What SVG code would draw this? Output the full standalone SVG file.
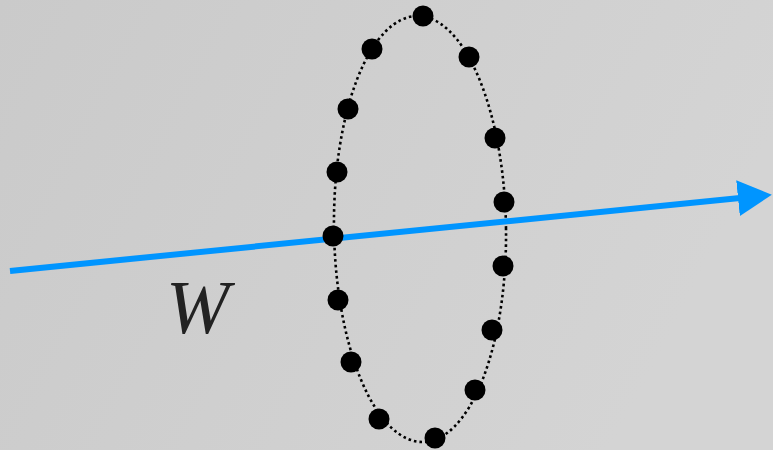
<svg xmlns="http://www.w3.org/2000/svg" width="773" height="450" viewBox="0 0 773 450">
<defs>
<linearGradient id="bg" x1="0" y1="0" x2="1" y2="0.3">
<stop offset="0" stop-color="#cacaca"/>
<stop offset="1" stop-color="#d4d4d4"/>
</linearGradient>
<marker id="ah" markerUnits="userSpaceOnUse" markerWidth="36" markerHeight="36" refX="2" refY="18" orient="auto">
<polygon points="0,0 34,18 0,36" fill="#0095ff"/>
</marker>
<style>
.dot{fill:#000}
.ring{fill:none;stroke:#000;stroke-width:2.6;stroke-dasharray:2.6 3}
</style>
</defs>
<rect width="773" height="450" fill="url(#bg)"/>
<g id="ring">
<ellipse class="ring" cx="420" cy="229" rx="86" ry="213" transform="rotate(-0.8 420 229)"/>
</g>
<g id="connectors">
<line x1="10" y1="271" x2="740" y2="198" stroke="#0095ff" stroke-width="6" marker-end="url(#ah)"/>
</g>
<g id="dots">
<circle class="dot" cx="423" cy="16" r="10.5"/>
<circle class="dot" cx="372" cy="49" r="10.5"/>
<circle class="dot" cx="469" cy="57" r="10.5"/>
<circle class="dot" cx="348" cy="109" r="10.5"/>
<circle class="dot" cx="495" cy="138" r="10.5"/>
<circle class="dot" cx="337" cy="172" r="10.5"/>
<circle class="dot" cx="504" cy="202" r="10.5"/>
<circle class="dot" cx="333" cy="236" r="10.5"/>
<circle class="dot" cx="503" cy="266" r="10.5"/>
<circle class="dot" cx="338" cy="300" r="10.5"/>
<circle class="dot" cx="492" cy="330" r="10.5"/>
<circle class="dot" cx="351" cy="362" r="10.5"/>
<circle class="dot" cx="475" cy="390" r="10.5"/>
<circle class="dot" cx="379" cy="419" r="10.5"/>
<circle class="dot" cx="435" cy="438" r="10.5"/>
</g>
<g id="label">
<text x="166" y="333" font-family="Liberation Serif, serif" font-style="italic" font-size="76" fill="#222">W</text>
</g>
</svg>
